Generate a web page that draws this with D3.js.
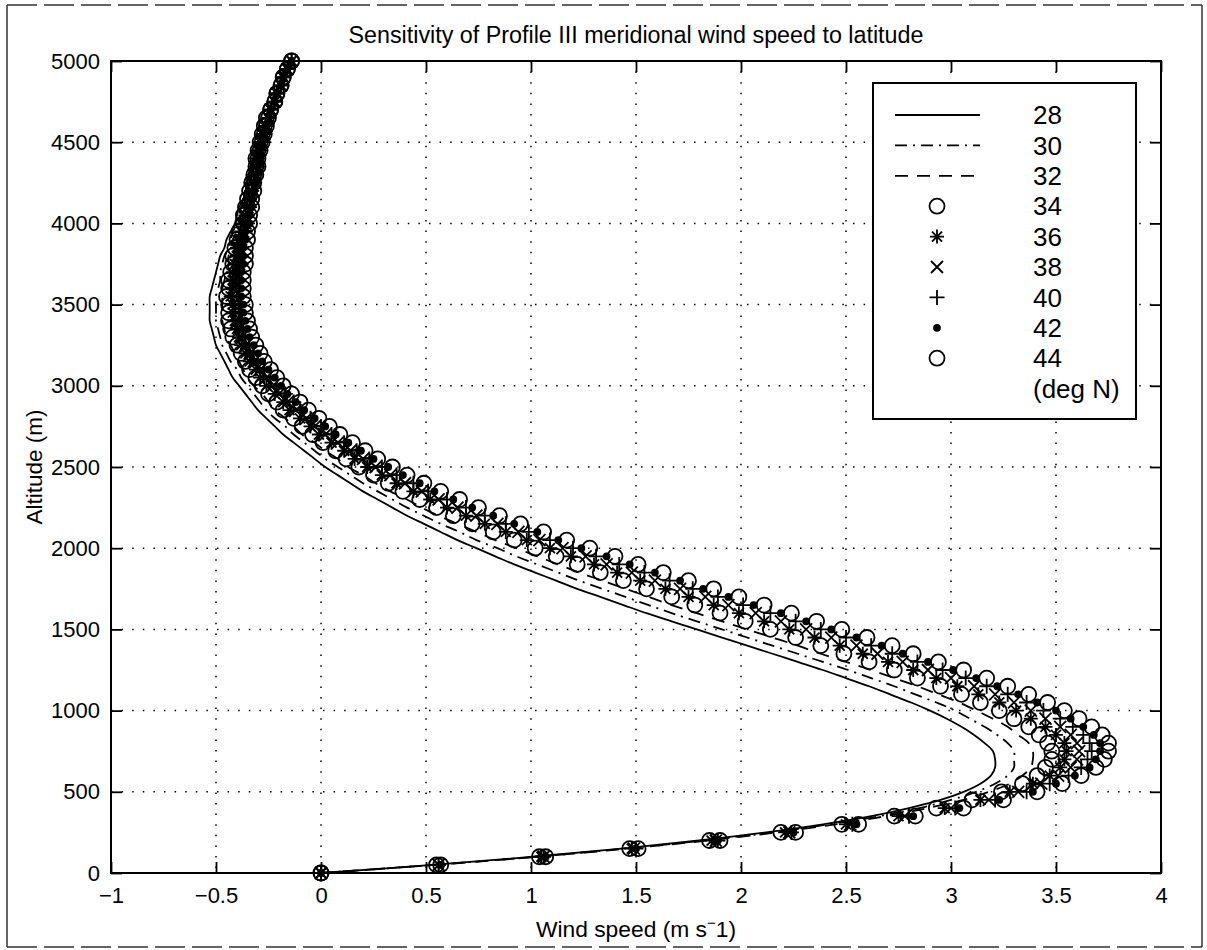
<!DOCTYPE html>
<html>
<head>
<meta charset="utf-8">
<script src="https://cdn.jsdelivr.net/npm/d3@7"></script>
<style>
  body { margin: 0; background: #fff; }
  svg text { font-family: "Liberation Sans", Arial, Helvetica, sans-serif; fill: #000; }
</style>
</head>
<body>
<div id="chart"></div>
<script>
// altitude levels (m)
const altitude = [
  0, 50, 100, 150, 200, 250, 300, 350, 400, 450,
  500, 550, 600, 650, 700, 750, 800, 850, 900, 950,
  1000, 1050, 1100, 1150, 1200, 1250, 1300, 1350, 1400, 1450,
  1500, 1550, 1600, 1650, 1700, 1750, 1800, 1850, 1900, 1950,
  2000, 2050, 2100, 2150, 2200, 2250, 2300, 2350, 2400, 2450,
  2500, 2550, 2600, 2650, 2700, 2750, 2800, 2850, 2900, 2950,
  3000, 3050, 3100, 3150, 3200, 3250, 3300, 3350, 3400, 3450,
  3500, 3550, 3600, 3650, 3700, 3750, 3800, 3850, 3900, 3950,
  4000, 4050, 4100, 4150, 4200, 4250, 4300, 4350, 4400, 4450,
  4500, 4550, 4600, 4650, 4700, 4750, 4800, 4850, 4900, 4950,
  5000
];

// meridional wind speed (m/s) per latitude
const lat28 = [
  0, 0.53, 1.01, 1.43, 1.80, 2.12, 2.39, 2.62, 2.80, 2.95,
  3.06, 3.14, 3.19, 3.21, 3.21, 3.20, 3.16, 3.11, 3.05, 2.98,
  2.90, 2.81, 2.71, 2.61, 2.50, 2.39, 2.27, 2.15, 2.03, 1.91,
  1.79, 1.67, 1.55, 1.44, 1.33, 1.22, 1.12, 1.02, 0.92, 0.83,
  0.74, 0.65, 0.57, 0.49, 0.41, 0.34, 0.27, 0.20, 0.14, 0.08,
  0.02, -0.03, -0.08, -0.13, -0.18, -0.22, -0.26, -0.30, -0.33, -0.36,
  -0.39, -0.42, -0.44, -0.46, -0.48, -0.50, -0.51, -0.52, -0.53, -0.53,
  -0.53, -0.53, -0.52, -0.51, -0.50, -0.49, -0.48, -0.46, -0.45, -0.43,
  -0.41, -0.40, -0.39, -0.37, -0.36, -0.35, -0.34, -0.33, -0.32, -0.31,
  -0.30, -0.29, -0.27, -0.26, -0.245, -0.23, -0.215, -0.20, -0.18, -0.16,
  -0.14
];
const lat30 = [
  0, 0.54, 1.02, 1.44, 1.82, 2.15, 2.42, 2.66, 2.85, 3.00,
  3.12, 3.21, 3.27, 3.30, 3.30, 3.30, 3.27, 3.22, 3.16, 3.09,
  3.02, 2.93, 2.83, 2.73, 2.62, 2.51, 2.39, 2.27, 2.15, 2.03,
  1.91, 1.79, 1.67, 1.56, 1.45, 1.34, 1.23, 1.13, 1.03, 0.93,
  0.84, 0.74, 0.66, 0.57, 0.49, 0.41, 0.34, 0.27, 0.20, 0.14,
  0.08, 0.02, -0.03, -0.08, -0.13, -0.17, -0.22, -0.26, -0.29, -0.32,
  -0.35, -0.38, -0.40, -0.43, -0.45, -0.47, -0.48, -0.49, -0.50, -0.50,
  -0.50, -0.50, -0.49, -0.48, -0.48, -0.47, -0.46, -0.44, -0.43, -0.42,
  -0.40, -0.39, -0.38, -0.36, -0.35, -0.34, -0.33, -0.32, -0.32, -0.31,
  -0.30, -0.29, -0.27, -0.26, -0.24, -0.23, -0.21, -0.20, -0.18, -0.16,
  -0.14
];
const lat32 = [
  0, 0.54, 1.03, 1.46, 1.84, 2.17, 2.45, 2.69, 2.89, 3.06,
  3.18, 3.28, 3.34, 3.38, 3.39, 3.39, 3.37, 3.32, 3.27, 3.20,
  3.12, 3.04, 2.94, 2.84, 2.73, 2.62, 2.50, 2.38, 2.27, 2.15,
  2.03, 1.91, 1.79, 1.67, 1.56, 1.45, 1.34, 1.23, 1.13, 1.03,
  0.93, 0.83, 0.74, 0.65, 0.56, 0.48, 0.41, 0.33, 0.26, 0.20,
  0.13, 0.08, 0.02, -0.03, -0.09, -0.13, -0.17, -0.22, -0.25, -0.28,
  -0.32, -0.35, -0.37, -0.39, -0.41, -0.43, -0.45, -0.46, -0.47, -0.47,
  -0.47, -0.47, -0.47, -0.46, -0.45, -0.44, -0.44, -0.43, -0.42, -0.40,
  -0.39, -0.38, -0.37, -0.36, -0.35, -0.34, -0.33, -0.32, -0.31, -0.30,
  -0.29, -0.28, -0.27, -0.26, -0.24, -0.23, -0.21, -0.20, -0.18, -0.16,
  -0.14
];
const lat34 = [
  0, 0.55, 1.04, 1.47, 1.85, 2.19, 2.48, 2.73, 2.93, 3.10,
  3.24, 3.34, 3.41, 3.45, 3.48, 3.48, 3.46, 3.42, 3.37, 3.30,
  3.23, 3.14, 3.05, 2.95, 2.84, 2.73, 2.61, 2.49, 2.38, 2.26,
  2.14, 2.02, 1.90, 1.78, 1.67, 1.55, 1.44, 1.33, 1.22, 1.12,
  1.02, 0.92, 0.82, 0.72, 0.63, 0.55, 0.47, 0.39, 0.32, 0.25,
  0.18, 0.12, 0.07, 0.01, -0.04, -0.09, -0.13, -0.18, -0.21, -0.25,
  -0.28, -0.31, -0.34, -0.36, -0.38, -0.40, -0.42, -0.43, -0.44, -0.44,
  -0.44, -0.45, -0.44, -0.44, -0.43, -0.42, -0.42, -0.41, -0.40, -0.39,
  -0.37, -0.37, -0.36, -0.35, -0.34, -0.33, -0.32, -0.31, -0.31, -0.30,
  -0.29, -0.28, -0.27, -0.26, -0.24, -0.22, -0.21, -0.19, -0.18, -0.16,
  -0.14
];
const lat36 = [
  0, 0.56, 1.05, 1.48, 1.86, 2.21, 2.50, 2.75, 2.97, 3.14,
  3.28, 3.39, 3.47, 3.52, 3.54, 3.55, 3.54, 3.50, 3.45, 3.38,
  3.31, 3.23, 3.13, 3.03, 2.93, 2.82, 2.70, 2.58, 2.47, 2.35,
  2.23, 2.11, 1.99, 1.87, 1.75, 1.64, 1.52, 1.41, 1.30, 1.19,
  1.09, 0.98, 0.88, 0.78, 0.69, 0.60, 0.52, 0.44, 0.36, 0.29,
  0.22, 0.16, 0.11, 0.05, -0.01, -0.05, -0.10, -0.15, -0.18, -0.22,
  -0.26, -0.29, -0.31, -0.34, -0.36, -0.38, -0.39, -0.40, -0.41, -0.42,
  -0.42, -0.43, -0.42, -0.42, -0.42, -0.41, -0.40, -0.40, -0.39, -0.38,
  -0.37, -0.36, -0.35, -0.34, -0.33, -0.33, -0.32, -0.31, -0.31, -0.30,
  -0.29, -0.28, -0.26, -0.25, -0.24, -0.22, -0.21, -0.19, -0.18, -0.16,
  -0.14
];
const lat38 = [
  0, 0.56, 1.06, 1.49, 1.88, 2.23, 2.52, 2.78, 3.00, 3.18,
  3.32, 3.43, 3.51, 3.57, 3.60, 3.61, 3.60, 3.57, 3.52, 3.45,
  3.38, 3.30, 3.21, 3.11, 3.00, 2.89, 2.77, 2.65, 2.55, 2.43,
  2.31, 2.19, 2.07, 1.94, 1.83, 1.71, 1.59, 1.48, 1.36, 1.26,
  1.15, 1.04, 0.94, 0.84, 0.74, 0.65, 0.56, 0.48, 0.40, 0.33,
  0.26, 0.20, 0.14, 0.08, 0.02, -0.03, -0.07, -0.12, -0.16, -0.20,
  -0.23, -0.26, -0.29, -0.32, -0.34, -0.36, -0.38, -0.39, -0.40, -0.40,
  -0.40, -0.41, -0.41, -0.41, -0.40, -0.39, -0.39, -0.39, -0.38, -0.37,
  -0.36, -0.36, -0.35, -0.34, -0.33, -0.33, -0.32, -0.31, -0.30, -0.29,
  -0.28, -0.27, -0.26, -0.25, -0.24, -0.22, -0.21, -0.19, -0.18, -0.16,
  -0.14
];
const lat40 = [
  0, 0.56, 1.06, 1.50, 1.89, 2.24, 2.53, 2.80, 3.02, 3.21,
  3.36, 3.47, 3.56, 3.62, 3.65, 3.67, 3.66, 3.63, 3.58, 3.52,
  3.44, 3.36, 3.27, 3.17, 3.07, 2.96, 2.84, 2.72, 2.62, 2.50,
  2.38, 2.26, 2.14, 2.01, 1.89, 1.77, 1.66, 1.54, 1.42, 1.31,
  1.20, 1.09, 0.99, 0.88, 0.78, 0.69, 0.60, 0.51, 0.44, 0.36,
  0.29, 0.23, 0.17, 0.11, 0.05, 0.00, -0.05, -0.10, -0.13, -0.17,
  -0.21, -0.24, -0.27, -0.30, -0.32, -0.34, -0.36, -0.37, -0.38, -0.39,
  -0.39, -0.39, -0.39, -0.39, -0.39, -0.38, -0.38, -0.38, -0.37, -0.36,
  -0.35, -0.35, -0.34, -0.34, -0.33, -0.32, -0.31, -0.30, -0.30, -0.29,
  -0.28, -0.27, -0.26, -0.25, -0.24, -0.22, -0.21, -0.19, -0.18, -0.16,
  -0.14
];
const lat42 = [
  0, 0.57, 1.07, 1.50, 1.89, 2.25, 2.55, 2.82, 3.04, 3.23,
  3.39, 3.50, 3.59, 3.66, 3.69, 3.71, 3.71, 3.68, 3.63, 3.57,
  3.50, 3.41, 3.32, 3.22, 3.12, 3.01, 2.89, 2.77, 2.67, 2.55,
  2.43, 2.31, 2.19, 2.06, 1.94, 1.82, 1.71, 1.59, 1.47, 1.36,
  1.24, 1.13, 1.03, 0.92, 0.82, 0.72, 0.63, 0.54, 0.47, 0.39,
  0.32, 0.25, 0.19, 0.13, 0.07, 0.02, -0.03, -0.08, -0.12, -0.16,
  -0.19, -0.22, -0.25, -0.28, -0.30, -0.32, -0.34, -0.35, -0.36, -0.37,
  -0.37, -0.38, -0.38, -0.38, -0.38, -0.37, -0.37, -0.37, -0.36, -0.36,
  -0.34, -0.34, -0.33, -0.33, -0.32, -0.32, -0.31, -0.30, -0.30, -0.29,
  -0.28, -0.27, -0.26, -0.25, -0.24, -0.22, -0.21, -0.19, -0.18, -0.16,
  -0.14
];
const lat44 = [
  0, 0.57, 1.07, 1.51, 1.90, 2.26, 2.56, 2.83, 3.06, 3.25,
  3.41, 3.53, 3.62, 3.69, 3.73, 3.75, 3.75, 3.72, 3.67, 3.61,
  3.54, 3.46, 3.37, 3.27, 3.17, 3.06, 2.94, 2.82, 2.72, 2.60,
  2.48, 2.36, 2.24, 2.11, 1.99, 1.87, 1.75, 1.63, 1.51, 1.40,
  1.28, 1.17, 1.06, 0.95, 0.85, 0.75, 0.66, 0.57, 0.49, 0.41,
  0.34, 0.27, 0.21, 0.15, 0.09, 0.04, -0.01, -0.06, -0.10, -0.14,
  -0.18, -0.21, -0.24, -0.27, -0.29, -0.31, -0.33, -0.34, -0.35, -0.36,
  -0.36, -0.37, -0.37, -0.37, -0.37, -0.36, -0.36, -0.36, -0.35, -0.35,
  -0.34, -0.34, -0.33, -0.33, -0.32, -0.32, -0.31, -0.30, -0.30, -0.29,
  -0.28, -0.27, -0.26, -0.25, -0.24, -0.22, -0.21, -0.19, -0.18, -0.16,
  -0.14
];

const legendLabels = ['28', '30', '32', '34', '36', '38', '40', '42', '44'];
const xTicks = [-1, -0.5, 0, 0.5, 1, 1.5, 2, 2.5, 3, 3.5, 4];
const yTicks = [0, 500, 1000, 1500, 2000, 2500, 3000, 3500, 4000, 4500, 5000];

const series = [
  { label: legendLabels[0], values: lat28, kind: 'line', dash: null },
  { label: legendLabels[1], values: lat30, kind: 'line', dash: '12,6,2,6' },
  { label: legendLabels[2], values: lat32, kind: 'line', dash: '13,9' },
  { label: legendLabels[3], values: lat34, kind: 'o' },
  { label: legendLabels[4], values: lat36, kind: '*' },
  { label: legendLabels[5], values: lat38, kind: 'x' },
  { label: legendLabels[6], values: lat40, kind: '+' },
  { label: legendLabels[7], values: lat42, kind: '.' },
  { label: legendLabels[8], values: lat44, kind: 'o' }
];

const width = 1207, height = 950;
const margin = { top: 61, right: 46, bottom: 77, left: 111 };
const plotW = width - margin.left - margin.right;
const plotH = height - margin.top - margin.bottom;

const svg = d3.select('#chart')
  .append('svg')
  .attr('width', width)
  .attr('height', height);

// outer figure frame (scanned page border)
const frame = svg.append('g').attr('stroke', '#333').attr('stroke-width', 1.5).attr('fill', 'none');
frame.append('line').attr('x1', 7).attr('y1', 5).attr('x2', 1202).attr('y2', 5).attr('stroke-dasharray', '30,7');
frame.append('line').attr('x1', 7).attr('y1', 947).attr('x2', 1202).attr('y2', 947).attr('stroke-dasharray', '30,7');
frame.append('line').attr('x1', 7).attr('y1', 5).attr('x2', 7).attr('y2', 947);
frame.append('line').attr('x1', 1202).attr('y1', 5).attr('x2', 1202).attr('y2', 947);

const g = svg.append('g')
  .attr('transform', 'translate(' + margin.left + ',' + margin.top + ')');

const x = d3.scaleLinear().domain([-1, 4]).range([0, plotW]);
const y = d3.scaleLinear().domain([0, 5000]).range([plotH, 0]);

// dotted grid
const grid = g.append('g')
  .attr('stroke', '#000')
  .attr('stroke-width', 1.5)
  .attr('stroke-dasharray', '1.5,9.1');
grid.selectAll('.vg')
  .data(xTicks.slice(1, -1))
  .enter().append('line')
  .attr('x1', d => x(d)).attr('x2', d => x(d))
  .attr('y1', 0).attr('y2', plotH);
grid.selectAll('.hg')
  .data(yTicks.slice(1, -1))
  .enter().append('line')
  .attr('y1', d => y(d)).attr('y2', d => y(d))
  .attr('x1', 0).attr('x2', plotW);

// axes with inward ticks on all four sides
const fmtX = d3.format('');
const fmtY = d3.format('d');
const tick = -11;

const xAxis = g.append('g')
  .attr('transform', 'translate(0,' + plotH + ')')
  .call(d3.axisBottom(x).tickValues(xTicks).tickSizeInner(tick).tickSizeOuter(0).tickPadding(14).tickFormat(fmtX));
const yAxis = g.append('g')
  .call(d3.axisLeft(y).tickValues(yTicks).tickSizeInner(tick).tickSizeOuter(0).tickPadding(11).tickFormat(fmtY));
const xTop = g.append('g')
  .call(d3.axisTop(x).tickValues(xTicks).tickSizeInner(tick).tickSizeOuter(0).tickFormat(''));
const yRight = g.append('g')
  .attr('transform', 'translate(' + plotW + ',0)')
  .call(d3.axisRight(y).tickValues(yTicks).tickSizeInner(tick).tickSizeOuter(0).tickFormat(''));

[xAxis, yAxis, xTop, yRight].forEach(a => {
  a.select('.domain').remove();
  a.selectAll('line').attr('stroke', '#000').attr('stroke-width', 1.8);
  a.selectAll('text')
    .style('font-family', '"Liberation Sans", Arial, Helvetica, sans-serif')
    .style('font-size', '22px')
    .attr('fill', '#000');
});

g.append('rect')
  .attr('x', 0).attr('y', 0)
  .attr('width', plotW).attr('height', plotH)
  .attr('fill', 'none')
  .attr('stroke', '#000')
  .attr('stroke-width', 2);

// curves
const line = d3.line()
  .x(d => x(d[1]))
  .y(d => y(d[0]))
  .curve(d3.curveCatmullRom);

function markerPath(kind) {
  const p = d3.path();
  if (kind === 'o') {
    p.moveTo(7.5, 0); p.arc(0, 0, 7.5, 0, 2 * Math.PI);
  } else if (kind === '*') {
    p.moveTo(0, -7); p.lineTo(0, 7);
    p.moveTo(-7, 0); p.lineTo(7, 0);
    p.moveTo(-5, -5); p.lineTo(5, 5);
    p.moveTo(-5, 5); p.lineTo(5, -5);
  } else if (kind === 'x') {
    p.moveTo(-6, -6); p.lineTo(6, 6);
    p.moveTo(-6, 6); p.lineTo(6, -6);
  } else if (kind === '+') {
    p.moveTo(0, -7.5); p.lineTo(0, 7.5);
    p.moveTo(-7.5, 0); p.lineTo(7.5, 0);
  } else if (kind === '.') {
    p.moveTo(3, 0); p.arc(0, 0, 3, 0, 2 * Math.PI);
  }
  return p.toString();
}

series.forEach(s => {
  const pts = altitude.map((a, i) => [a, s.values[i]]);
  if (s.kind === 'line') {
    g.append('path')
      .datum(pts)
      .attr('fill', 'none')
      .attr('stroke', '#000')
      .attr('stroke-width', 1.8)
      .attr('stroke-dasharray', s.dash)
      .attr('d', line);
  } else {
    g.append('g').selectAll('path')
      .data(pts)
      .enter().append('path')
      .attr('transform', d => 'translate(' + x(d[1]) + ',' + y(d[0]) + ')')
      .attr('d', markerPath(s.kind))
      .attr('fill', s.kind === '.' ? '#000' : 'none')
      .attr('stroke', '#000')
      .attr('stroke-width', 1.8);
  }
});

// title and axis labels
svg.append('text')
  .attr('x', margin.left + plotW / 2)
  .attr('y', 43)
  .attr('text-anchor', 'middle')
  .style('font-size', '23.3px')
  .text('Sensitivity of Profile III meridional wind speed to latitude');

const xl = svg.append('text')
  .attr('x', margin.left + plotW / 2)
  .attr('y', 937)
  .attr('text-anchor', 'middle')
  .style('font-size', '22.8px');
xl.append('tspan').text('Wind speed (m s');
xl.append('tspan').attr('dy', -9).style('font-size', '15px').text('\u2212');
xl.append('tspan').attr('dy', 9).text('1)');

svg.append('text')
  .attr('transform', 'translate(42,' + (margin.top + plotH / 2) + ') rotate(-90)')
  .attr('text-anchor', 'middle')
  .style('font-size', '22.5px')
  .text('Altitude (m)');

// legend
const lg = svg.append('g');
lg.append('rect')
  .attr('x', 873).attr('y', 83)
  .attr('width', 263).attr('height', 336)
  .attr('fill', '#fff')
  .attr('stroke', '#000')
  .attr('stroke-width', 2);

const rowY = i => 115 + i * 30.4;
series.forEach((s, i) => {
  const yy = rowY(i);
  if (s.kind === 'line') {
    lg.append('line')
      .attr('x1', 895).attr('x2', 980)
      .attr('y1', yy).attr('y2', yy)
      .attr('stroke', '#000')
      .attr('stroke-width', 1.8)
      .attr('stroke-dasharray', s.dash);
  } else {
    lg.append('path')
      .attr('transform', 'translate(937,' + yy + ')')
      .attr('d', markerPath(s.kind))
      .attr('fill', s.kind === '.' ? '#000' : 'none')
      .attr('stroke', '#000')
      .attr('stroke-width', 1.8);
  }
  lg.append('text')
    .attr('x', 1033).attr('y', yy)
    .attr('dy', '0.35em')
    .style('font-size', '26px')
    .text(s.label);
});
lg.append('text')
  .attr('x', 1033).attr('y', rowY(9))
  .attr('dy', '0.35em')
  .style('font-size', '26px')
  .text('(deg N)');
</script>
</body>
</html>
